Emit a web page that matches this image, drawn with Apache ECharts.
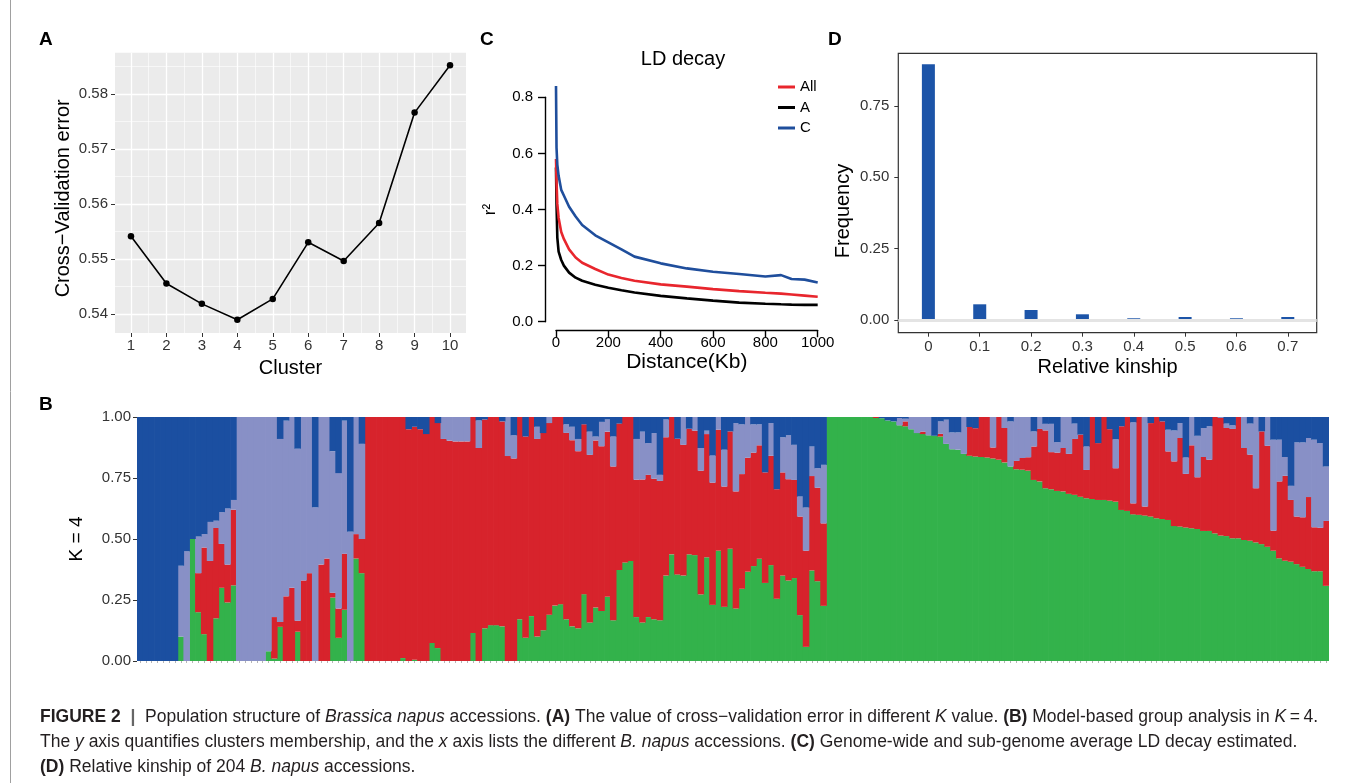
<!DOCTYPE html>
<html>
<head>
<meta charset="utf-8">
<title>Population structure of Brassica napus accessions</title>
<script src="https://cdn.jsdelivr.net/npm/echarts@6.0.0/dist/echarts.min.js"></script>
<style>
html, body { margin: 0; padding: 0; background: #fff; }
#chart { width: 1355px; height: 783px; }
</style>
</head>
<body>
<div id="chart"></div>
<script>
// (A) cross-validation error for K = 1..10
const clusters = [1, 2, 3, 4, 5, 6, 7, 8, 9, 10];
const cvError = [0.5541, 0.5455, 0.5418, 0.5389, 0.5427, 0.5530, 0.5496, 0.5565, 0.5766, 0.5852];
const cvTicks = [0.54, 0.55, 0.56, 0.57, 0.58];

// (C) LD decay, r2 against distance (Kb)
const ldDist = [0, 2, 5, 10, 20, 30, 50, 75, 100, 150, 200, 250, 300, 400, 500, 600, 700, 800, 860, 900, 950, 1000];
const ldAll = [0.58, 0.50, 0.42, 0.37, 0.32, 0.295, 0.258, 0.229, 0.21, 0.188, 0.168, 0.156, 0.146, 0.133, 0.125, 0.116, 0.109, 0.103, 0.10, 0.097, 0.093, 0.089];
const ldA = [0.55, 0.42, 0.30, 0.25, 0.22, 0.20, 0.175, 0.157, 0.146, 0.132, 0.121, 0.112, 0.104, 0.092, 0.083, 0.075, 0.068, 0.064, 0.062, 0.061, 0.060, 0.060];
const ldC = [0.84, 0.62, 0.56, 0.52, 0.47, 0.45, 0.41, 0.375, 0.345, 0.308, 0.283, 0.258, 0.232, 0.208, 0.19, 0.178, 0.17, 0.161, 0.166, 0.152, 0.15, 0.14];

// (D) relative kinship histogram
const kinship = [0, 0.1, 0.2, 0.3, 0.4, 0.5, 0.6, 0.7];
const kinFreq = [0.896, 0.055, 0.035, 0.02, 0.006, 0.0105, 0.006, 0.0105];
const kinYTicks = [0, 0.25, 0.5, 0.75];

// (B) membership of 204 accessions, K = 4 (bottom to top: green, red, lavender, blue)
const kGreen = [
  0,0,0,0,0,0,0,0.10,0,0.50,
  0.20,0.11,0,0.175,0.30,0.24,0.31,0,0,0,
  0,0,0.04,0.01,0.14,0,0,0.12,0,0,
  0,0,0,0.26,0.095,0.21,0,0.42,0.36,0,
  0,0,0,0,0,0.012,0,0.005,0,0,
  0.074,0.053,0,0,0,0,0,0.115,0,0.134,
  0.147,0.147,0.142,0,0,0.171,0.095,0.184,0.10,0.126,
  0.19,0.227,0.233,0.171,0.142,0.134,0.274,0.158,0.219,0.205,
  0.263,0.167,0.373,0.404,0.41,0.18,0.158,0.18,0.171,0.167,
  0.35,0.437,0.355,0.35,0.437,0.434,0.273,0.425,0.23,0.452,
  0.222,0.46,0.215,0.296,0.366,0.389,0.419,0.32,0.393,0.255,
  0.35,0.33,0.34,0.188,0.058,0.371,0.327,0.226,1,1,
  1,1,1,1,1,1,0.996,0.995,0.986,0.982,
  0.966,0.962,0.95,0.934,0.93,0.925,0.923,0.92,0.89,0.868,
  0.866,0.849,0.841,0.838,0.836,0.834,0.83,0.825,0.814,0.797,
  0.786,0.784,0.78,0.742,0.736,0.708,0.704,0.697,0.695,0.685,
  0.681,0.673,0.667,0.664,0.66,0.66,0.657,0.653,0.619,0.615,
  0.601,0.599,0.596,0.592,0.585,0.582,0.578,0.553,0.551,0.547,
  0.544,0.541,0.533,0.533,0.523,0.514,0.512,0.503,0.503,0.496,
  0.493,0.486,0.479,0.468,0.452,0.421,0.411,0.407,0.397,0.386,
  0.377,0.368,0.368,0.308
];
const kRed = [
  0,0,0,0,0,0,0,0,0,0,
  0.16,0.355,0.41,0.37,0.18,0.155,0.31,0,0,0,
  0,0,0,0.17,0.02,0.265,0.30,0.045,0.33,0.36,
  0,0.395,0.42,0.02,0.12,0.23,0,0.10,0.14,1,
  1,1,1,1,1,0.988,0.95,0.955,0.95,0.93,
  0.926,0.922,0.91,0.903,0.90,0.90,0.90,0.885,0.873,0.856,
  0.853,0.853,0.84,0.84,0.83,0.829,0.825,0.816,0.81,0.808,
  0.785,0.773,0.767,0.764,0.763,0.726,0.696,0.687,0.685,0.675,
  0.677,0.63,0.60,0.596,0.59,0.563,0.586,0.583,0.576,0.571,
  0.567,0.563,0.556,0.536,0.515,0.51,0.507,0.505,0.501,0.496,
  0.493,0.481,0.48,0.47,0.467,0.465,0.465,0.453,0.448,0.449,
  0.423,0.415,0.402,0.404,0.394,0.387,0.383,0.338,0,0,
  0,0,0,0,0,0,0.004,0,0,0,
  0,0.02,0,0,0.01,0,0,0.011,0,0,
  0,0,0.118,0.116,0.164,0.166,0.045,0.175,0.141,0,
  0.034,0.048,0.055,0.137,0.215,0.237,0.152,0.157,0.178,0.164,
  0.229,0.255,0.116,0.336,0.233,0.34,0.293,0.137,0.343,0.385,
  0.045,0.401,0.037,0.383,0.415,0.4,0.281,0.265,0.363,0.22,
  0.34,0.212,0.303,0.292,0.477,0.482,0.443,0.448,0.497,0.377,
  0.353,0.222,0.462,0.414,0.082,0.315,0.348,0.253,0.195,0.203,
  0.295,0.18,0.178,0.266
];
const kLav = [
  0,0,0,0,0,0,0,0.29,0.45,0,
  0.15,0.055,0.16,0.03,0.13,0.23,0.04,1,1,1,
  1,1,0.96,0.82,0.75,0.72,0.70,0.705,0.67,0.64,
  0.63,0.605,0.58,0.58,0.555,0.545,0.53,0.48,0.39,0,
  0,0,0,0,0,0,0,0,0,0,
  0,0,0.09,0.097,0.10,0.10,0.10,0,0.113,0,
  0,0,0,0.16,0.095,0,0,0,0.05,0,
  0.025,0,0,0.035,0.055,0.05,0,0.095,0.016,0.10,
  0.05,0.123,0,0,0,0.167,0.196,0.13,0.187,0.025,
  0.073,0,0,0.114,0,0.056,0.093,0.014,0.111,0.052,
  0.151,0,0.28,0.204,0.167,0.116,0.086,0,0.134,0,
  0.144,0.18,0.144,0.082,0.177,0.121,0.08,0.24,0,0,
  0,0,0,0,0,0,0,0,0,0,
  0.03,0.011,0.05,0.066,0.06,0.075,0,0.051,0.099,0.069,
  0.071,0.151,0,0,0,0,0.125,0,0.045,0.185,
  0.18,0.168,0.165,0.062,0.049,0.027,0.116,0.043,0.127,0.151,
  0.063,0,0.096,0,0,0,0,0.119,0,0,
  0.332,0,0.367,0,0,0,0.089,0.127,0.061,0.067,
  0.116,0.17,0.119,0.137,0,0.004,0.018,0.015,0,0.127,
  0.127,0.292,0,0.118,0.373,0.171,0.077,0.058,0.304,0.307,
  0.242,0.359,0.347,0.223
];
const kBlue = [
  1,1,1,1,1,1,1,0.61,0.55,0.50,
  0.49,0.48,0.43,0.425,0.39,0.375,0.34,0,0,0,
  0,0,0,0,0.09,0.015,0,0.13,0,0,
  0.37,0,0,0.14,0.23,0.015,0.47,0,0.11,0,
  0,0,0,0,0,0,0.05,0.04,0.05,0.07,
  0,0.025,0,0,0,0,0,0,0.014,0.01,
  0,0,0.018,0,0.075,0,0.08,0,0.04,0.066,
  0,0,0,0.03,0.04,0.09,0.03,0.06,0.08,0.02,
  0.01,0.08,0.027,0,0,0.09,0.06,0.107,0.066,0.237,
  0.01,0,0.089,0,0.048,0,0.127,0.056,0.158,0,
  0.134,0.059,0.025,0.03,0,0.03,0.03,0.227,0.025,0.296,
  0.083,0.075,0.114,0.326,0.371,0.121,0.21,0.196,0,0,
  0,0,0,0,0,0,0,0.005,0.014,0.018,
  0.004,0.007,0,0,0,0,0.077,0.018,0.011,0.063,
  0.063,0,0.041,0.046,0,0,0,0,0,0.018,
  0,0,0,0.059,0,0.028,0.028,0.103,0,0,
  0.027,0.072,0.121,0,0.107,0,0.05,0.091,0.038,0,
  0.022,0,0,0.025,0,0.018,0.052,0.055,0.025,0.166,
  0,0.077,0.045,0.038,0,0,0.027,0.034,0,0,
  0.027,0,0.059,0,0.093,0.093,0.164,0.282,0.104,0.104,
  0.086,0.093,0.107,0.203
];
const accessions = kGreen.map((_, i) => i + 1);

const FONT = '"Liberation Sans", Arial, Helvetica, sans-serif';
const TXT = '#333';
const CAP = 17.5;

const pair = (xs, ys) => xs.map((x, i) => [x, ys[i]]);

const tickStyle = { show: true, length: 4, lineStyle: { color: '#333', width: 1 } };
const labelBase = { color: TXT, fontSize: 15, fontFamily: FONT };
const noLine = { show: false, onZero: false };

// stacked bar in panel B, a little wider than its band so no seams show between accessions
const kBar = (name, data, color) => ({
	type: 'bar', name, xAxisIndex: 3, yAxisIndex: 3, stack: 'k4',
	barCategoryGap: '0%', barWidth: '112%', data, silent: true,
	itemStyle: { color }
});

const capRich = {
	b: { fontSize: CAP, fontFamily: FONT, fontWeight: 'bold', fill: '#231f20' },
	i: { fontSize: CAP, fontFamily: FONT, fontStyle: 'italic', fill: '#231f20' },
	bar: { fontSize: CAP, fontFamily: FONT, fontWeight: 'bold', fill: '#666' }
};
const capLine = (y, text) => ({
	type: 'text', x: 40, y,
	style: { text, fontSize: CAP, fontFamily: FONT, fill: '#231f20', verticalAlign: 'middle', rich: capRich }
});
const panelTag = (x, y, text) => ({
	type: 'text', x, y,
	style: { text, fontSize: 19, fontWeight: 'bold', fontFamily: FONT, fill: '#000', verticalAlign: 'middle' }
});

const option = {
	animation: false,
	backgroundColor: '#fff',
	textStyle: { fontFamily: FONT },
	title: {
		text: 'LD decay',
		left: 678,
		top: 44,
		textAlign: 'center',
		textStyle: { fontSize: 20, fontWeight: 'normal', color: '#000', fontFamily: FONT }
	},
	legend: {
		data: ['All', 'A', 'C'],
		orient: 'vertical',
		left: 773,
		top: 74,
		icon: 'rect',
		itemWidth: 17,
		itemHeight: 3,
		itemGap: 4.5,
		selectedMode: false,
		textStyle: { fontSize: 15, color: '#000', fontFamily: FONT, lineHeight: 16 }
	},
	grid: [
		{ left: 115, right: 889, top: 52.7, bottom: 450, show: true, backgroundColor: '#ebebeb', borderWidth: 0, outerBoundsMode: 'none' },
		{ left: 556, right: 537.3, top: 97.3, bottom: 461.3, show: false, outerBoundsMode: 'none' },
		{ left: 898.3, right: 38.3, top: 53.3, bottom: 450.3, show: true, borderColor: '#333', borderWidth: 1.2, backgroundColor: 'transparent', outerBoundsMode: 'none' },
		{ left: 137, right: 26, top: 417, bottom: 122, show: false, outerBoundsMode: 'none' }
	],
	xAxis: [
		{
			type: 'value', gridIndex: 0, min: 0.55, max: 10.45, minInterval: 1, maxInterval: 1,
			name: 'Cluster', nameLocation: 'middle', nameGap: 25,
			nameTextStyle: { fontSize: 20, color: '#000', fontFamily: FONT },
			axisLine: noLine,
			axisTick: Object.assign({ customValues: clusters }, tickStyle),
			axisLabel: Object.assign({ margin: 5, customValues: clusters }, labelBase),
			splitLine: { show: true, lineStyle: { color: '#fff', width: 1.3 } },
			minorTick: { show: false, splitNumber: 2 },
			minorSplitLine: { show: true, lineStyle: { color: '#fff', width: 0.6 } }
		},
		{
			type: 'value', gridIndex: 1, min: 0, max: 1000, interval: 200, offset: 8.5,
			name: 'Distance(Kb)', nameLocation: 'middle', nameGap: 22,
			nameTextStyle: { fontSize: 21, color: '#000', fontFamily: FONT },
			axisLine: { show: true, onZero: false, lineStyle: { color: '#000', width: 1.4 } },
			axisTick: { show: true, length: 7, lineStyle: { color: '#000', width: 1.4 } },
			axisLabel: Object.assign({}, labelBase, { margin: 5, color: '#000', formatter: v => String(v) }),
			splitLine: { show: false }
		},
		{
			type: 'value', gridIndex: 2, min: -0.0586, max: 0.7563, minInterval: 0.1, maxInterval: 0.1,
			name: 'Relative kinship', nameLocation: 'middle', nameGap: 25,
			nameTextStyle: { fontSize: 20, color: '#000', fontFamily: FONT },
			axisLine: noLine,
			axisTick: Object.assign({ customValues: kinship }, tickStyle),
			axisLabel: Object.assign({
				margin: 7, customValues: kinship,
				formatter: v => String(Math.round(v * 10) / 10)
			}, labelBase),
			splitLine: { show: false }
		},
		{
			type: 'category', gridIndex: 3, data: accessions, boundaryGap: true,
			axisLine: noLine,
			axisTick: { show: true, interval: 0, length: 2, alignWithLabel: true, lineStyle: { color: '#b5b5b5', width: 1 } },
			axisLabel: { show: false },
			splitLine: { show: false }
		}
	],
	yAxis: [
		{
			type: 'value', gridIndex: 0, min: 0.5365, max: 0.5875, minInterval: 0.01, maxInterval: 0.01,
			name: 'Cross\u2212Validation error', nameLocation: 'middle', nameGap: 42,
			nameTextStyle: { fontSize: 20, color: '#000', fontFamily: FONT, padding: [0, 11, 0, 0] },
			axisLine: noLine,
			axisTick: Object.assign({ customValues: cvTicks }, tickStyle),
			axisLabel: Object.assign({
				margin: 7, customValues: cvTicks,
				formatter: v => v.toFixed(2)
			}, labelBase),
			splitLine: { show: true, lineStyle: { color: '#fff', width: 1.3 } },
			minorTick: { show: false, splitNumber: 2 },
			minorSplitLine: { show: true, lineStyle: { color: '#fff', width: 0.6 } }
		},
		{
			type: 'value', gridIndex: 1, min: 0, max: 0.8, interval: 0.2, offset: 11,
			name: 'r\u00b2', nameLocation: 'middle', nameGap: 46,
			nameTextStyle: { fontSize: 17, color: '#000', fontFamily: FONT },
			axisLine: { show: true, onZero: false, lineStyle: { color: '#000', width: 1.4 } },
			axisTick: { show: true, length: 7, lineStyle: { color: '#000', width: 1.4 } },
			axisLabel: Object.assign({}, labelBase, { margin: 12, color: '#000', formatter: v => v.toFixed(1) }),
			splitLine: { show: false }
		},
		{
			type: 'value', gridIndex: 2, min: -0.0445, max: 0.9345, minInterval: 0.25, maxInterval: 0.25,
			name: 'Frequency', nameLocation: 'middle', nameGap: 45,
			nameTextStyle: { fontSize: 20, color: '#000', fontFamily: FONT, padding: [0, 36, 0, 0] },
			axisLine: noLine,
			axisTick: Object.assign({ customValues: kinYTicks }, tickStyle),
			axisLabel: Object.assign({
				margin: 9, customValues: kinYTicks,
				formatter: v => v.toFixed(2)
			}, labelBase),
			splitLine: { show: false }
		},
		{
			type: 'value', gridIndex: 3, min: 0, max: 1, interval: 0.25,
			name: 'K = 4', nameLocation: 'middle', nameGap: 51,
			nameTextStyle: { fontSize: 19, color: '#000', fontFamily: FONT },
			axisLine: noLine,
			axisTick: tickStyle,
			axisLabel: Object.assign({ margin: 6, formatter: v => v.toFixed(2) }, labelBase),
			splitLine: { show: false }
		}
	],
	series: [
		// A
		{
			type: 'line', name: 'cv', xAxisIndex: 0, yAxisIndex: 0,
			data: pair(clusters, cvError),
			symbol: 'circle', symbolSize: 6.5,
			itemStyle: { color: '#000' },
			lineStyle: { color: '#000', width: 1.6 },
			silent: true
		},
		// C
		{
			type: 'line', name: 'All', xAxisIndex: 1, yAxisIndex: 1, data: pair(ldDist, ldAll),
			symbol: 'none', clip: false, itemStyle: { color: '#e8262d' }, lineStyle: { color: '#e8262d', width: 2.6 }, z: 3
		},
		{
			type: 'line', name: 'A', xAxisIndex: 1, yAxisIndex: 1, data: pair(ldDist, ldA),
			symbol: 'none', clip: false, itemStyle: { color: '#000' }, lineStyle: { color: '#000', width: 2.6 }, z: 2
		},
		{
			type: 'line', name: 'C', xAxisIndex: 1, yAxisIndex: 1, data: pair(ldDist, ldC),
			symbol: 'none', clip: false, itemStyle: { color: '#1f4e9c' }, lineStyle: { color: '#1f4e9c', width: 2.6 }, z: 4
		},
		// D
		{
			type: 'line', name: 'zero', xAxisIndex: 2, yAxisIndex: 2, data: [], z: 1, silent: true,
			markLine: {
				symbol: 'none', silent: true, label: { show: false },
				lineStyle: { color: '#e4e4e4', width: 3, type: 'solid' },
				data: [{ yAxis: 0 }]
			}
		},
		{
			type: 'bar', name: 'kinship', xAxisIndex: 2, yAxisIndex: 2, data: pair(kinship, kinFreq),
			barWidth: 13, z: 3, silent: true, itemStyle: { color: '#1c54a8' }
		},
		// B
		kBar('g', kGreen, '#33b24b'),
		kBar('r', kRed, '#d7232c'),
		kBar('l', kLav, '#8890c6'),
		kBar('b', kBlue, '#1b4fa1')
	],
	graphic: [
		{ type: 'line', shape: { x1: 10.5, y1: 0, x2: 10.5, y2: 783 }, style: { stroke: '#a0a0a0', lineWidth: 1 }, silent: true },
		panelTag(39, 40, 'A'),
		panelTag(480, 40, 'C'),
		panelTag(828, 40, 'D'),
		panelTag(39, 405, 'B'),
		capLine(717, '{b|FIGURE 2}  {bar||}  Population structure of {i|Brassica napus} accessions. {b|(A)} The value of cross\u2212validation error in different {i|K} value. {b|(B)} Model-based group analysis in {i|K}\u2009=\u20094.'),
		capLine(742, 'The {i|y} axis quantifies clusters membership, and the {i|x} axis lists the different {i|B. napus} accessions. {b|(C)} Genome-wide and sub-genome average LD decay estimated.'),
		capLine(767, '{b|(D)} Relative kinship of 204 {i|B. napus} accessions.')
	]
};

const myChart = echarts.init(document.getElementById('chart'), null, { renderer: 'canvas' });
myChart.setOption(option);
</script>
</body>
</html>
